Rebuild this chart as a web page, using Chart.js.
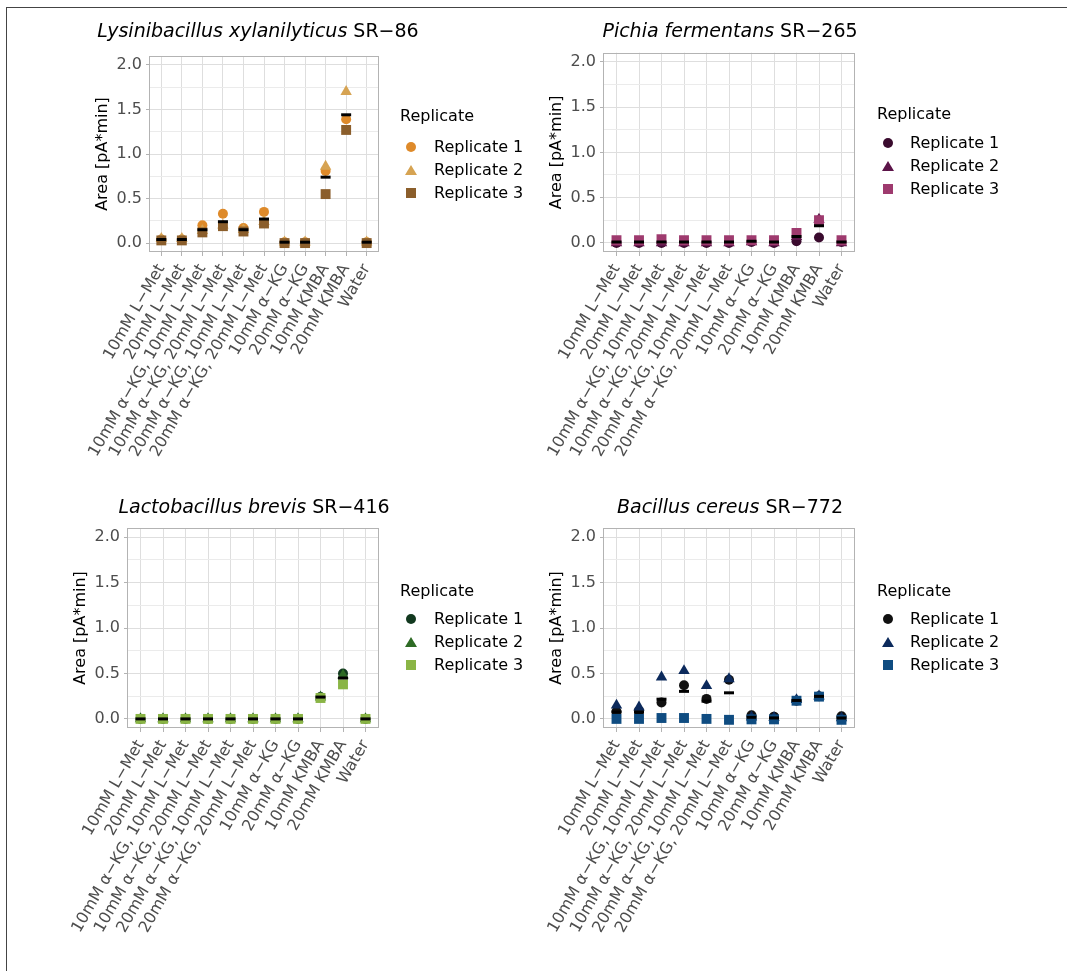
<!DOCTYPE html>
<html><head><meta charset="utf-8">
<script src="https://cdn.jsdelivr.net/npm/chart.js@4.4.1/dist/chart.umd.min.js"></script>
<style>
body{margin:0;background:#fff;width:1067px;height:971px;position:relative;overflow:hidden;font-family:"DejaVu Sans",sans-serif;}
.frame{position:absolute;left:6px;top:7px;width:1200px;height:1100px;border-left:1px solid #444;border-top:1px solid #444;}
canvas{position:absolute;}
.ptitle{position:absolute;font-size:19px;line-height:19px;white-space:nowrap;transform:translateX(-50%);color:#000;}
.ptitle i{font-style:italic;}
.lg{position:absolute;font-size:16px;line-height:16px;color:#000;white-space:nowrap;}
.sym{position:absolute;}
</style></head>
<body>
<div class="frame"></div>
<canvas id="c1"></canvas><canvas id="c2"></canvas><canvas id="c3"></canvas><canvas id="c4"></canvas>
<script>
// ---- data ----
const categories = ["10mM L−Met","20mM L−Met","10mM α−KG, 10mM L−Met","10mM α−KG, 20mM L−Met","20mM α−KG, 10mM L−Met","20mM α−KG, 20mM L−Met","10mM α−KG","20mM α−KG","10mM KMBA","20mM KMBA","Water"];
const yTickValues = [0, 0.5, 1.0, 1.5, 2.0];
const yTickLabels = ["0.0","0.5","1.0","1.5","2.0"];
const yMinorValues = [0.25, 0.75, 1.25, 1.75];
const replicateNames = ["Replicate 1","Replicate 2","Replicate 3"];
const yAxisTitle = "Area [pA*min]";
const legendTitle = "Replicate";

// Lysinibacillus xylanilyticus SR-86
const lysR1   = [0.04,0.04,0.20,0.33,0.17,0.35,0.01,0.01,0.81,1.39,0.01];
const lysR2   = [0.05,0.05,0.14,0.20,0.15,0.24,0.01,0.01,0.86,1.70,0.01];
const lysR3   = [0.03,0.03,0.12,0.19,0.13,0.22,0.00,0.00,0.55,1.27,0.00];
const lysMean = [0.04,0.04,0.15,0.24,0.15,0.27,0.01,0.01,0.74,1.44,0.01];
// Pichia fermentans SR-265
const picR1   = [0.00,0.00,0.00,0.00,0.00,0.00,0.01,0.00,0.02,0.06,0.01];
const picR2   = [0.00,0.00,0.00,0.00,0.00,0.00,0.01,0.00,0.07,0.26,0.00];
const picR3   = [0.03,0.03,0.04,0.03,0.03,0.03,0.03,0.03,0.11,0.25,0.03];
const picMean = [0.01,0.01,0.01,0.01,0.01,0.01,0.02,0.01,0.07,0.19,0.01];
// Lactobacillus brevis SR-416
const lacR1   = [0.00,0.00,0.00,0.00,0.00,0.00,0.00,0.00,0.24,0.50,0.00];
const lacR2   = [0.00,0.00,0.00,0.00,0.00,0.00,0.00,0.00,0.24,0.48,0.00];
const lacR3   = [0.00,0.00,0.00,0.00,0.00,0.00,0.00,0.00,0.23,0.38,0.00];
const lacMean = [0.00,0.00,0.00,0.00,0.00,0.00,0.00,0.00,0.24,0.45,0.00];
// Bacillus cereus SR-772
const bacR1   = [0.08,0.09,0.18,0.37,0.22,0.43,0.04,0.025,0.20,0.25,0.03];
const bacR2   = [0.15,0.13,0.46,0.53,0.365,0.44,0.02,0.015,0.21,0.25,0.01];
const bacR3   = [0.00,0.00,0.01,0.01,0.00,-0.01,-0.005,-0.005,0.20,0.245,-0.01];
const bacMean = [0.077,0.073,0.217,0.303,0.195,0.287,0.018,0.011,0.203,0.248,0.01];

const panels = [
  {id:'c1', species:'Lysinibacillus xylanilyticus', strain:'SR−86', series:[lysR1,lysR2,lysR3], mean:lysMean,
   colors:['#DE8A2A','#D6A352','#8B5E2B'],
   canvas:{left:60,top:20,width:344,height:460}, pad:{left:33.4,top:36,right:25}, hx:228,
   titleX:258, titleY:31, lg:{tx:400, ty:116, sx:411, txt:434, rows:[147,170,193]}},
  {id:'c2', species:'Pichia fermentans', strain:'SR−265', series:[picR1,picR2,picR3], mean:picMean,
   colors:['#3A0B2E','#5C1449','#9E3A6E'],
   canvas:{left:530,top:20,width:350,height:460}, pad:{left:17.4,top:32.7,right:25}, hx:228,
   titleX:730, titleY:31, lg:{tx:877, ty:114, sx:888, txt:910, rows:[143,166,189]}},
  {id:'c3', species:'Lactobacillus brevis', strain:'SR−416', series:[lacR1,lacR2,lacR3], mean:lacMean,
   colors:['#12391F','#2E6B25','#8AB545'],
   canvas:{left:60,top:500,width:344,height:471}, pad:{left:11.4,top:28,right:25}, hx:243,
   titleX:254, titleY:507, lg:{tx:400, ty:591, sx:411, txt:434, rows:[619,642,665]}},
  {id:'c4', species:'Bacillus cereus', strain:'SR−772', series:[bacR1,bacR2,bacR3], mean:bacMean,
   colors:['#111111','#0C2A5C','#0F4C81'],
   canvas:{left:530,top:500,width:350,height:471}, pad:{left:17.4,top:28,right:25}, hx:243,
   titleX:730, titleY:507, lg:{tx:877, ty:591, sx:888, txt:910, rows:[619,642,665]}}
];

const FONT = 'DejaVu Sans';
const styles = [
  {pointStyle:'circle', radius:5},
  {pointStyle:'triangle', radius:6.6},
  {pointStyle:'rect', radius:7}
];

const borderPlugin = {
  id:'panelBorder',
  afterDatasetsDraw(chart){
    const a = chart.chartArea, c = chart.ctx;
    c.save(); c.strokeStyle = '#b3b3b3'; c.lineWidth = 1;
    c.strokeRect(Math.round(a.left)+0.5, Math.round(a.top)+0.5, Math.round(a.right-a.left)-1, Math.round(a.bottom-a.top)-1);
    c.restore();
  }
};

function symbolHTML(kind, color, cx, cy){
  if (kind===0) return `<div class="sym" style="left:${cx-5}px;top:${cy-5}px;width:10px;height:10px;border-radius:50%;background:${color}"></div>`;
  if (kind===1) return `<div class="sym" style="left:${cx-6}px;top:${cy-5.5}px;width:0;height:0;border-left:6px solid transparent;border-right:6px solid transparent;border-bottom:10.5px solid ${color}"></div>`;
  return `<div class="sym" style="left:${cx-5}px;top:${cy-5}px;width:10px;height:10px;background:${color}"></div>`;
}

panels.forEach(p => {
  const cv = document.getElementById(p.id);
  cv.width = p.canvas.width; cv.height = p.canvas.height;
  cv.style.left = p.canvas.left+'px'; cv.style.top = p.canvas.top+'px';
  cv.style.width = p.canvas.width+'px'; cv.style.height = p.canvas.height+'px';

  const datasets = [];
  datasets.push({label:'mean', data:p.mean.map((v,i)=>({x:i,y:v})), pointStyle:'line', pointRadius:5,
    borderColor:'#000', backgroundColor:'#000', borderWidth:3, order:0});
  p.series.forEach((s,k) => {
    datasets.push({label:replicateNames[k], data:s.map((v,i)=>({x:i,y:v})),
      pointStyle:styles[k].pointStyle, pointRadius:styles[k].radius, backgroundColor:p.colors[k],
      borderColor:p.colors[k], borderWidth:0, order:3-k});
  });

  new Chart(cv, {
    type:'scatter',
    data:{datasets},
    plugins:[borderPlugin],
    options:{
      responsive:false, animation:false, devicePixelRatio:1, events:[],
      layout:{padding:{left:p.pad.left, top:p.pad.top, right:p.pad.right, bottom:0}},
      plugins:{legend:{display:false}, tooltip:{enabled:false}},
      elements:{point:{hoverRadius:0}},
      scales:{
        x:{type:'linear', min:-0.6, max:10.6, bounds:'data',
          afterBuildTicks:s=>{ s.ticks = categories.map((c,i)=>({value:i})); },
          afterFit:s=>{ s.height = p.hx; },
          ticks:{autoSkip:false, minRotation:60, maxRotation:60, padding:5, color:'#4d4d4d',
            font:{family:FONT, size:16}, callback:v=>categories[v]},
          grid:{color:'#dedede', lineWidth:1, tickLength:4, tickColor:'#b3b3b3', tickWidth:1},
          border:{display:false}
        },
        y:{type:'linear', min:-0.1, max:2.1, bounds:'data',
          afterBuildTicks:s=>{ s.ticks = yTickValues.concat(yMinorValues).sort((a,b)=>a-b).map(v=>({value:v})); },
          afterFit:s=>{ s.width = 55.6; },
          ticks:{padding:4, color:'#4d4d4d', font:{family:FONT, size:16},
            callback:v=>{ const i = yTickValues.indexOf(v); return i>=0 ? yTickLabels[i] : ''; }},
          grid:{
            color:ctx=> yTickValues.includes(ctx.tick.value) ? '#dedede' : '#ebebeb',
            lineWidth:1, tickLength:3,
            tickColor:ctx=> yTickValues.includes(ctx.tick.value) ? '#b3b3b3' : 'rgba(0,0,0,0)'},
          border:{display:false},
          title:{display:true, text:yAxisTitle, color:'#000', font:{family:FONT, size:16}, padding:0}
        }
      }
    }
  });

  // panel title (real text, mixed italic)
  const t = document.createElement('div');
  t.className = 'ptitle';
  t.style.left = p.titleX+'px'; t.style.top = (p.titleY-10)+'px';
  t.innerHTML = `<i>${p.species}</i> ${p.strain}`;
  document.body.appendChild(t);

  // legend
  let html = `<div class="lg" style="left:${p.lg.tx}px;top:${p.lg.ty-8}px">${legendTitle}</div>`;
  p.lg.rows.forEach((ry,k)=>{
    html += symbolHTML(k, p.colors[k], p.lg.sx, ry);
    html += `<div class="lg" style="left:${p.lg.txt}px;top:${ry-8}px">${replicateNames[k]}</div>`;
  });
  const lg = document.createElement('div'); lg.innerHTML = html;
  document.body.appendChild(lg);
});
</script>
</body></html>
